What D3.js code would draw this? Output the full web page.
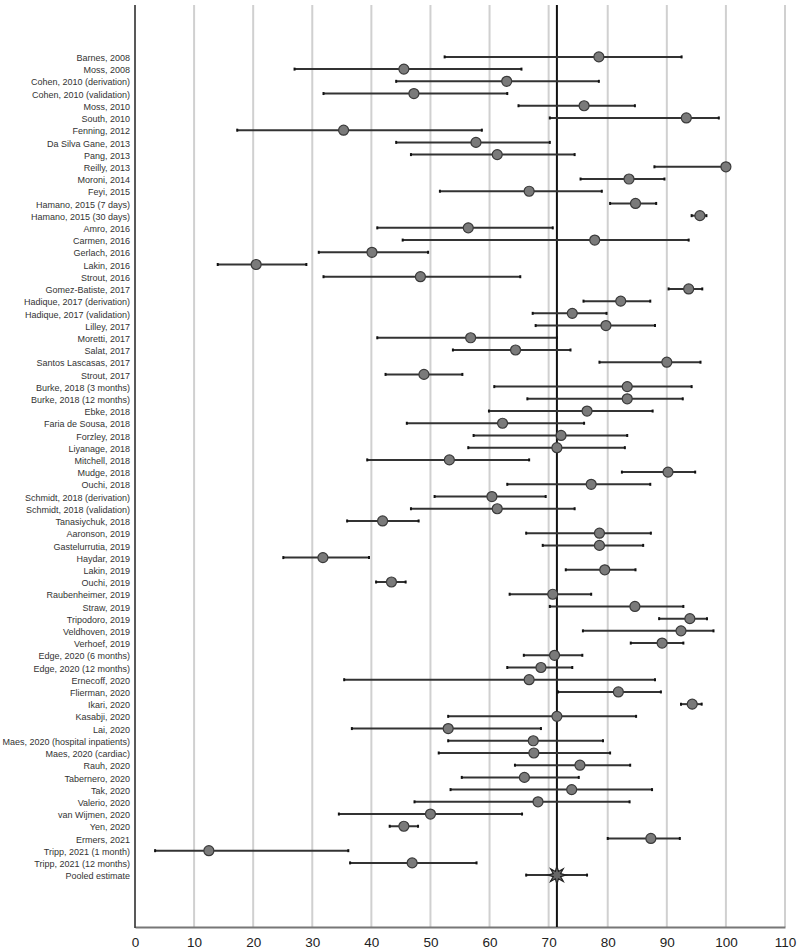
<!DOCTYPE html>
<html>
<head>
<meta charset="utf-8">
<script src="https://cdn.jsdelivr.net/npm/d3@7"></script>
<style>
  body { margin: 0; background: #fff; }
  text { font-family: "Liberation Sans", Arial, sans-serif; }
</style>
</head>
<body>
<div class="js-canvas"></div>
<script>
'use strict';

// study labels, top to bottom
const studies = [
    'Barnes, 2008', 'Moss, 2008', 'Cohen, 2010 (derivation)', 'Cohen, 2010 (validation)',
    'Moss, 2010', 'South, 2010', 'Fenning, 2012', 'Da Silva Gane, 2013', 'Pang, 2013',
    'Reilly, 2013', 'Moroni, 2014', 'Feyi, 2015', 'Hamano, 2015 (7 days)',
    'Hamano, 2015 (30 days)', 'Amro, 2016', 'Carmen, 2016', 'Gerlach, 2016', 'Lakin, 2016',
    'Strout, 2016', 'Gomez-Batiste, 2017', 'Hadique, 2017 (derivation)',
    'Hadique, 2017 (validation)', 'Lilley, 2017', 'Moretti, 2017', 'Salat, 2017',
    'Santos Lascasas, 2017', 'Strout, 2017', 'Burke, 2018 (3 months)', 'Burke, 2018 (12 months)',
    'Ebke, 2018', 'Faria de Sousa, 2018', 'Forzley, 2018', 'Liyanage, 2018', 'Mitchell, 2018',
    'Mudge, 2018', 'Ouchi, 2018', 'Schmidt, 2018 (derivation)', 'Schmidt, 2018 (validation)',
    'Tanasiychuk, 2018', 'Aaronson, 2019', 'Gastelurrutia, 2019', 'Haydar, 2019', 'Lakin, 2019',
    'Ouchi, 2019', 'Raubenheimer, 2019', 'Straw, 2019', 'Tripodoro, 2019', 'Veldhoven, 2019',
    'Verhoef, 2019', 'Edge, 2020 (6 months)', 'Edge, 2020 (12 months)', 'Ernecoff, 2020',
    'Flierman, 2020', 'Ikari, 2020', 'Kasabji, 2020', 'Lai, 2020',
    'Maes, 2020 (hospital inpatients)', 'Maes, 2020 (cardiac)', 'Rauh, 2020', 'Tabernero, 2020',
    'Tak, 2020', 'Valerio, 2020', 'van Wijmen, 2020', 'Yen, 2020', 'Ermers, 2021',
    'Tripp, 2021 (1 month)', 'Tripp, 2021 (12 months)'
];

// point estimates (%)
const estimates = [
    78.5, 45.5, 62.9, 47.2, 76.0, 93.3, 35.3, 57.7, 61.3, 100.0, 83.6, 66.7, 84.7, 95.6,
    56.4, 77.8, 40.1, 20.5, 48.3, 93.7, 82.2, 74.0, 79.7, 56.8, 64.4, 90.0, 48.9, 83.3,
    83.3, 76.5, 62.2, 72.1, 71.4, 53.2, 90.2, 77.2, 60.4, 61.3, 41.9, 78.6, 78.6, 31.8,
    79.5, 43.4, 70.7, 84.6, 93.9, 92.4, 89.2, 71.0, 68.7, 66.7, 81.8, 94.3, 71.4, 53.0,
    67.4, 67.5, 75.3, 65.9, 73.9, 68.2, 50.0, 45.5, 87.3, 12.5, 46.9
];

// lower CI bounds
const lower = [
    52.4, 27.0, 44.2, 31.9, 64.9, 70.2, 17.3, 44.2, 46.7, 87.9, 75.4, 51.6, 80.4, 94.2,
    41.0, 45.3, 31.1, 14.0, 31.9, 90.3, 75.9, 67.3, 67.8, 41.0, 53.8, 78.6, 42.4, 60.8,
    66.4, 59.9, 46.0, 57.3, 56.4, 39.3, 82.4, 63.0, 50.7, 46.7, 35.9, 66.2, 69.0, 25.1,
    72.9, 40.8, 63.4, 70.2, 88.7, 75.8, 83.9, 65.8, 63.0, 35.4, 71.6, 92.4, 53.0, 36.7,
    53.0, 51.4, 64.3, 55.3, 53.4, 47.3, 34.5, 43.1, 80.0, 3.4, 36.4
];

// upper CI bounds
const upper = [
    92.5, 65.4, 78.5, 63.0, 84.6, 98.8, 58.7, 70.2, 74.4, 100.0, 89.6, 79.0, 88.2, 96.7,
    70.7, 93.7, 49.6, 29.0, 65.2, 96.0, 87.2, 79.8, 88.0, 71.4, 73.7, 95.7, 55.4, 94.2,
    92.7, 87.6, 76.0, 83.3, 82.9, 66.7, 94.8, 87.2, 69.5, 74.4, 48.0, 87.3, 86.0, 39.6,
    84.7, 45.8, 77.2, 92.8, 96.8, 97.9, 92.8, 75.7, 74.0, 88.0, 89.0, 95.9, 84.8, 68.7,
    79.2, 80.4, 83.8, 75.1, 87.5, 83.7, 65.5, 47.9, 92.2, 36.1, 57.8
];

// pooled estimate [lower, estimate, upper]
const pooledLabel = 'Pooled estimate';
const pooled = [66.2, 71.4, 76.5];

const xTicks = [0, 10, 20, 30, 40, 50, 60, 70, 80, 90, 100, 110];

const config = {
    width: 799,
    height: 949,
    margin: { top: 5, right: 14, bottom: 22, left: 135 }
};

const graphWidth = 785 - config.margin.left;
const graphHeight = config.height - config.margin.top - config.margin.bottom;

const rows = studies.map((s, i) => ({ label: s, est: estimates[i], lo: lower[i], hi: upper[i], pooled: false }));
rows.push({ label: pooledLabel, lo: pooled[0], est: pooled[1], hi: pooled[2], pooled: true });

const svg = d3.select('.js-canvas')
    .append('svg')
    .attr('width', config.width)
    .attr('height', config.height);

const graph = svg.append('g')
    .attr('transform', `translate(${config.margin.left}, ${config.margin.top})`);

const x = d3.scaleLinear().domain([0, 110]).range([0, graphWidth]);
const y = d3.scalePoint()
    .domain(rows.map(d => d.label))
    .range([0, graphHeight])
    .padding(4.25);

// grid lines
graph.append('g')
    .selectAll('line')
    .data(xTicks.slice(1))
    .enter()
    .append('line')
    .attr('x1', d => x(d)).attr('x2', d => x(d))
    .attr('y1', 0).attr('y2', graphHeight)
    .attr('stroke', '#d0d0d0')
    .attr('stroke-width', 2);

// bottom axis
const xAxis = d3.axisBottom(x).tickValues(xTicks).tickSize(0).tickPadding(10);
const xAxisGroup = graph.append('g')
    .attr('transform', `translate(0, ${graphHeight})`)
    .call(xAxis);
xAxisGroup.select('.domain').attr('stroke', '#777').attr('stroke-width', 2);
xAxisGroup.selectAll('text')
    .attr('font-size', 13.5)
    .attr('fill', '#222')
    .style('font-family', '"Liberation Sans", Arial, sans-serif');

// left axis line
graph.append('line')
    .attr('x1', 0).attr('x2', 0)
    .attr('y1', 0).attr('y2', graphHeight + 1)
    .attr('stroke', '#222')
    .attr('stroke-width', 1.5);

// row labels
graph.append('g')
    .selectAll('text')
    .data(rows)
    .enter()
    .append('text')
    .attr('x', -5)
    .attr('y', d => y(d.label) + 1)
    .attr('dy', '0.35em')
    .attr('text-anchor', 'end')
    .attr('font-size', 9)
    .attr('fill', '#333')
    .text(d => d.label);

// pooled reference line
graph.append('line')
    .attr('x1', x(pooled[1])).attr('x2', x(pooled[1]))
    .attr('y1', 0).attr('y2', graphHeight)
    .attr('stroke', '#111')
    .attr('stroke-width', 2);

// CI lines + caps
const ci = graph.append('g')
    .selectAll('g')
    .data(rows)
    .enter()
    .append('g');

ci.append('line')
    .attr('x1', d => x(d.lo)).attr('x2', d => x(d.hi))
    .attr('y1', d => y(d.label)).attr('y2', d => y(d.label))
    .attr('stroke', '#333')
    .attr('stroke-width', 2);

['lo', 'hi'].forEach(k => {
    ci.append('line')
        .attr('x1', d => x(d[k])).attr('x2', d => x(d[k]))
        .attr('y1', d => y(d.label) - 1.5).attr('y2', d => y(d.label) + 1.5)
        .attr('stroke', '#111')
        .attr('stroke-width', 2);
});

// study markers
graph.append('g')
    .selectAll('circle')
    .data(rows.filter(d => !d.pooled))
    .enter()
    .append('circle')
    .attr('cx', d => x(d.est))
    .attr('cy', d => y(d.label))
    .attr('r', 5)
    .attr('fill', '#7a7a7a')
    .attr('stroke', '#3a3a3a')
    .attr('stroke-width', 1.2);

// pooled star
const starPts = d3.range(16).map(i => {
    const a = i * Math.PI / 8;
    const r = i % 2 === 0 ? 9 : 4;
    return [a, r];
});
const star = d3.lineRadial().curve(d3.curveLinearClosed);
const p = rows.find(d => d.pooled);
graph.append('path')
    .attr('d', star(starPts))
    .attr('transform', `translate(${x(p.est)}, ${y(p.label)})`)
    .attr('fill', '#666')
    .attr('stroke', '#222')
    .attr('stroke-width', 1.2);
</script>
</body>
</html>
